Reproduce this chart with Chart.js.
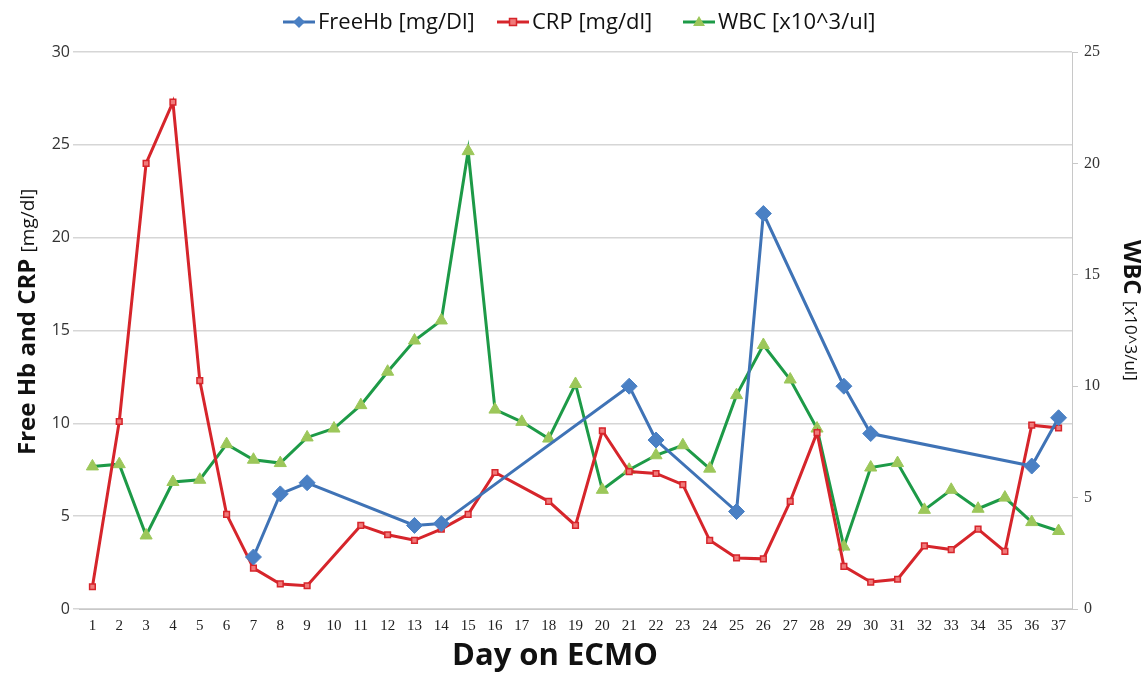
<!DOCTYPE html>
<html>
<head>
<meta charset="utf-8">
<script src="https://cdn.jsdelivr.net/npm/chart.js@4.4.1/dist/chart.umd.min.js"></script>
<style>
html,body{margin:0;padding:0;background:#fff;}
#wrap{width:1148px;height:673px;position:relative;}
</style>
</head>
<body>
<div id="wrap"><canvas id="c" width="1148" height="673"></canvas></div>
<script>
const days = ['1','2','3','4','5','6','7','8','9','10','11','12','13','14','15','16','17','18','19','20','21','22','23','24','25','26','27','28','29','30','31','32','33','34','35','36','37'];
const freeHb = [null,null,null,null,null,null,2.8,6.2,6.8,null,null,null,4.5,4.6,null,null,null,null,null,null,12.0,9.1,null,null,5.25,21.3,null,null,12.0,9.45,null,null,null,null,null,7.7,10.3];
const crp = [1.2,10.1,24.0,27.3,12.3,5.1,2.2,1.35,1.25,null,4.5,4.0,3.7,4.3,5.1,7.35,null,5.8,4.5,9.6,7.4,7.3,6.7,3.7,2.75,2.7,5.8,9.5,2.3,1.45,1.6,3.4,3.2,4.3,3.1,9.9,9.75];
const wbc = [6.4,6.5,3.3,5.7,5.8,7.4,6.7,6.55,7.7,8.1,9.15,10.65,12.05,12.95,20.55,8.95,8.4,7.65,10.1,5.35,6.25,6.9,7.35,6.3,9.6,11.85,10.3,8.1,2.8,6.35,6.55,4.45,5.35,4.5,5.0,3.9,3.5];
const leftTicks = [0,5,10,15,20,25,30];
const rightTicks = [0,5,10,15,20,25];
const seriesNames = ['FreeHb [mg/Dl]','CRP [mg/dl]','WBC [x10^3/ul]'];

const BLUE = '#3f73b6', BLUE_M = '#4a80c4', GAP = '#6f87a8';
const RED = '#d6252b', RED_F = '#f07a7a';
const GREEN = '#1d9a47', GREEN_F = '#9cc75a';

const titlePlugin = {
  id: 'titles',
  afterDraw(chart) {
    const ctx = chart.ctx;
    ctx.save();
    const legendItems = [
      {x: 283, text: seriesNames[0], color: BLUE, fill: BLUE_M, shape: 'diamond'},
      {x: 497, text: seriesNames[1], color: RED, fill: RED_F, shape: 'square'},
      {x: 683, text: seriesNames[2], color: GREEN, fill: GREEN_F, shape: 'triangle'}
    ];
    const ly = 22;
    ctx.font = '22px "Open Sans"';
    ctx.textBaseline = 'middle';
    ctx.textAlign = 'left';
    legendItems.forEach(it => {
      ctx.strokeStyle = it.color; ctx.lineWidth = 3;
      ctx.beginPath(); ctx.moveTo(it.x, ly); ctx.lineTo(it.x + 32, ly); ctx.stroke();
      const cx = it.x + 16;
      ctx.fillStyle = it.fill; ctx.strokeStyle = it.color; ctx.lineWidth = 1.5;
      ctx.beginPath();
      if (it.shape === 'diamond') { ctx.moveTo(cx, ly-6); ctx.lineTo(cx+6, ly); ctx.lineTo(cx, ly+6); ctx.lineTo(cx-6, ly); ctx.closePath(); ctx.fill(); }
      else if (it.shape === 'square') { ctx.rect(cx-3.5, ly-3.5, 7, 7); ctx.fill(); ctx.stroke(); }
      else { ctx.moveTo(cx, ly-6); ctx.lineTo(cx+6, ly+4); ctx.lineTo(cx-6, ly+4); ctx.closePath(); ctx.fill(); }
      ctx.fillStyle = '#111';
      ctx.fillText(it.text, it.x + 35, ly + 1);
    });
    ctx.font = 'bold 31px "Open Sans"';
    ctx.textAlign = 'center';
    ctx.fillStyle = '#111';
    ctx.fillText('Day on ECMO', 555, 656);
    ctx.save();
    ctx.translate(28, 455);
    ctx.rotate(-Math.PI/2);
    ctx.textAlign = 'left';
    ctx.font = 'bold 24px "Open Sans"';
    const t1 = 'Free Hb and CRP ';
    ctx.fillText(t1, 0, 0);
    const w1 = ctx.measureText(t1).width;
    ctx.font = '19px "Open Sans"';
    ctx.fillText('[mg/dl]', w1, 1);
    ctx.restore();
    ctx.save();
    ctx.translate(1131, 240);
    ctx.rotate(Math.PI/2);
    ctx.textAlign = 'left';
    ctx.font = 'bold 24px "Open Sans"';
    const t2 = 'WBC ';
    ctx.fillText(t2, 0, 0);
    const w2 = ctx.measureText(t2).width;
    ctx.font = '17px "Open Sans"';
    ctx.fillText('[x10^3/ul]', w2, 1);
    ctx.restore();
    ctx.restore();
  }
};

new Chart(document.getElementById('c'), {
  type: 'line',
  data: {
    labels: days,
    datasets: [
      {
        label: seriesNames[0], data: freeHb, yAxisID: 'y', spanGaps: true,
        borderColor: BLUE, borderWidth: 3, backgroundColor: BLUE_M,
        pointStyle: 'rectRot', pointRadius: 8, pointBorderColor: BLUE_M, pointBackgroundColor: BLUE_M, pointBorderWidth: 1,
        segment: {
          borderColor: c => (c.p1DataIndex - c.p0DataIndex > 1 ? GAP : BLUE),
          borderWidth: c => (c.p1DataIndex - c.p0DataIndex > 1 ? 2 : 3)
        },
        tension: 0, order: 0
      },
      {
        label: seriesNames[1], data: crp, yAxisID: 'y', spanGaps: true,
        borderColor: RED, borderWidth: 3,
        pointStyle: 'rect', pointRadius: 4, pointBorderColor: RED, pointBackgroundColor: RED_F, pointBorderWidth: 1.5,
        tension: 0, order: 1
      },
      {
        label: seriesNames[2], data: wbc, yAxisID: 'y1',
        borderColor: GREEN, borderWidth: 3,
        pointStyle: 'triangle', pointRadius: 7, pointBorderColor: GREEN_F, pointBackgroundColor: GREEN_F, pointBorderWidth: 1,
        tension: 0, order: 2
      }
    ]
  },
  options: {
    responsive: false,
    animation: false,
    devicePixelRatio: 1,
    layout: {padding: {top: 52, left: 0, right: 0, bottom: 0}},
    plugins: {legend: {display: false}, tooltip: {enabled: false}},
    scales: {
      x: {
        type: 'category', offset: true,
        grid: {display: false, drawTicks: false},
        border: {color: '#c8c8c8', width: 1},
        ticks: {font: {family: '"Liberation Serif"', size: 15}, color: '#222', padding: 8, maxRotation: 0, autoSkip: false},
        afterFit: s => { s.height = 64; }
      },
      y: {
        position: 'left', min: 0, max: 30,
        afterBuildTicks: s => { s.ticks = leftTicks.map(v => ({value: v})); },
        grid: {color: '#d6d6d6', lineWidth: 1.5, tickLength: 6},
        border: {display: false},
        ticks: {font: {family: '"Open Sans"', size: 16}, color: '#333', padding: 3},
        afterFit: s => { s.width = 79; }
      },
      y1: {
        position: 'right', min: 0, max: 25,
        afterBuildTicks: s => { s.ticks = rightTicks.map(v => ({value: v})); },
        grid: {drawOnChartArea: false, color: '#c8c8c8', tickLength: 6},
        border: {color: '#c8c8c8', width: 1},
        ticks: {font: {family: '"Liberation Serif"', size: 16}, color: '#333', padding: 6},
        afterFit: s => { s.width = 76; }
      }
    }
  },
  plugins: [titlePlugin]
});
</script>
</body>
</html>
